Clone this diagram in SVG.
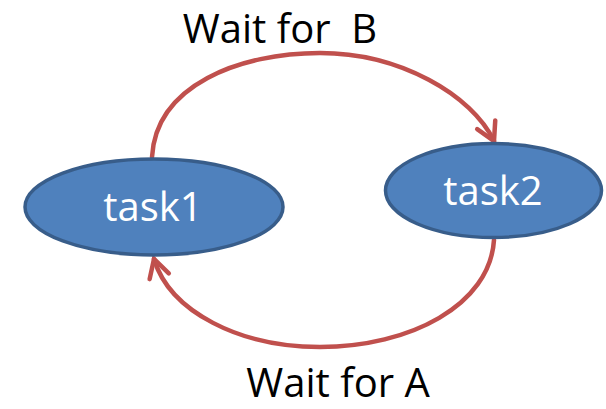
<svg xmlns="http://www.w3.org/2000/svg" width="606" height="409" viewBox="0 0 606 409">
  <style>
    .node ellipse { fill: #4F81BD; stroke: #385D8A; stroke-width: 3.5; }
    .node text { fill: #FFFFFF; font-family: "Open Sans", "Liberation Sans", sans-serif; font-size: 40px; text-anchor: middle; }
    .edge { fill: none; stroke: #C0504D; stroke-width: 4.5; stroke-linecap: round; marker-end: url(#chevron); }
    .label { fill: #000000; font-family: "Open Sans", "Liberation Sans", sans-serif; font-size: 40px; text-anchor: middle; }
  </style>
  <defs>
    <marker id="chevron" viewBox="-6 -6 12 12" markerWidth="12" markerHeight="12" markerUnits="userSpaceOnUse" refX="0" refY="0" orient="auto" overflow="visible">
      <path d="M-18,-10 L0,0 L-18,10" fill="none" stroke="#C0504D" stroke-width="4.5" stroke-linecap="round" stroke-linejoin="miter"/>
    </marker>
  </defs>
  <rect width="606" height="409" fill="#FFFFFF"/>

  <g id="connectors">
    <path class="edge" d="M152,157 C156,85 240,53 320,53 C400,53 472,95 494,141"/>
    <path class="edge" d="M494,240 C490,305 410,347 320,347 C240,347 170,312 154,259"/>
  </g>

  <g id="task1" class="node">
    <ellipse cx="154" cy="207" rx="129" ry="48"/>
    <text x="153" y="221">task1</text>
  </g>

  <g id="task2" class="node">
    <ellipse cx="493.5" cy="190.5" rx="108" ry="47"/>
    <text x="493" y="205">task2</text>
  </g>

  <g id="labels">
    <text class="label" x="280" y="43" xml:space="preserve">Wait for  B</text>
    <text class="label" x="338" y="397">Wait for A</text>
  </g>
</svg>
